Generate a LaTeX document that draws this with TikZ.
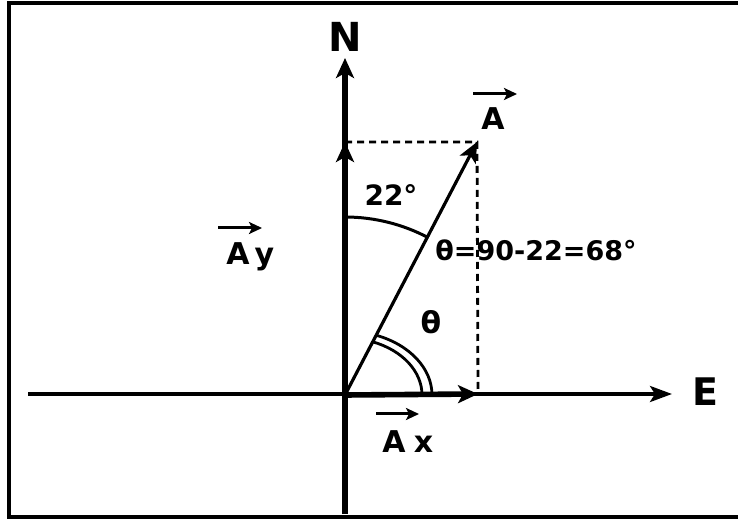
\documentclass[tikz,border=0pt]{standalone}
\usepackage{fontspec}
\setmainfont{DejaVu Sans}
\usetikzlibrary{arrows.meta}
\tikzset{
  vecline/.style={line width=2.6pt,-{Stealth[length=10pt,width=9pt,inset=2.5pt]}},
  overarrow/.style={line width=1.5pt,-{Stealth[length=6.5pt,width=6pt,inset=1.5pt]}},
  dashline/.style={line width=1.4pt,dash pattern=on 3.5pt off 2.5pt},
  lbl/.style={inner sep=0pt},
}

\begin{document}
\begin{tikzpicture}[x=0.5pt,y=0.5pt]
  \useasboundingbox (0,0) rectangle (738,519);
  % frame, cut off on the right
  \draw[line width=2pt] (740,516) -- (8.5,516) -- (8.5,2.5) -- (740,2.5);

  \coordinate (O) at (345,124);
  \coordinate (Stail) at (345,5);
  \coordinate (Ntip) at (345,461);
  \coordinate (Wtail) at (28,125);
  \coordinate (Etip) at (672,125);
  \coordinate (Ay) at (345,377);
  \coordinate (Ax) at (478,125);
  \coordinate (A) at (477,377);

  % axes
  \draw[vecline] (Stail) -- (Ntip);
  \draw[vecline,line width=1.8pt,-{Stealth[length=11pt,width=8pt,inset=2.5pt]}] (Wtail) -- (Etip);
  % vector and its components
  \draw[vecline,line width=2.8pt] (O) -- (Ay);
  \draw[vecline,line width=2.8pt] (O) -- (Ax);
  \draw[vecline,line width=1.6pt] (O) -- (A);
  \draw[dashline] (Ay) -- (A) -- (Ax);

  % angle marks
  \draw[line width=1.5pt] (O) ++(90:178) arc[start angle=90,end angle=62,radius=178];
  \draw[line width=1.4pt] (O) ++(87,0) arc[start angle=0,end angle=69,x radius=87,y radius=64];
  \draw[line width=1.4pt] (O) ++(77,0) arc[start angle=0,end angle=69,x radius=77,y radius=57];

  \node[lbl,font=\bfseries\fontsize{20}{20}\selectfont] (lblN) at (345,482) {N};
  \node[lbl,font=\bfseries\fontsize{19}{19}\selectfont] (lblE) at (705,127) {E};

  \node[lbl,anchor=base west,font=\bfseries\fontsize{15}{15}\selectfont] (lblA) at (481,389) {A};
  \draw[overarrow] ([xshift=-4pt,yshift=18pt]lblA.base west) -- ++(22pt,0);
  \node[lbl,anchor=base west,font=\bfseries\fontsize{15}{15}\selectfont] (lblAy) at (226,254) {A\,y};
  \draw[overarrow] ([xshift=-4pt,yshift=18.5pt]lblAy.base west) -- ++(22pt,0);
  \node[lbl,anchor=base west,font=\bfseries\fontsize{15}{15}\selectfont] (lblAx) at (382,67) {A\;x};
  \draw[overarrow] ([xshift=-3pt,yshift=19pt]lblAx.base west) -- ++(21.5pt,0);

  \node[lbl,font=\bfseries\fontsize{14}{14}\selectfont] (ang22) at (391,324) {22°};
  \node[lbl,font=\bfseries\fontsize{13.5}{13.5}\selectfont] (angeq) at (536,269) {θ=90-22=68°};
  \node[lbl,font=\bfseries\fontsize{15}{15}\selectfont] (theta) at (431,197) {θ};
\end{tikzpicture}
\end{document}
